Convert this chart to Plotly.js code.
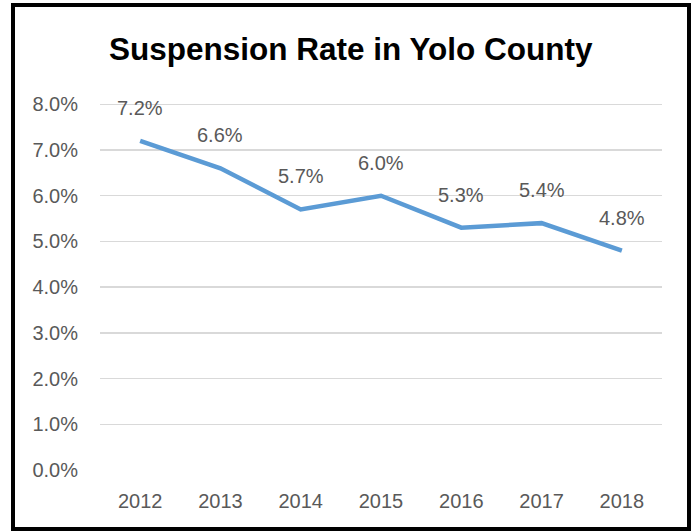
<!DOCTYPE html>
<html>
<head>
<meta charset="utf-8">
<script src="https://cdn.plot.ly/plotly-3.0.1.min.js"></script>
<style>
  html, body { margin: 0; padding: 0; background: #fff; }
  #wrap { position: relative; width: 696px; height: 531px; }
  #chart { position: absolute; left: 0; top: 0; width: 696px; height: 531px; }
  #frame { position: absolute; left: 11px; top: 3px; width: 672px; height: 520px;
           border: 4px solid #000; box-sizing: content-box; pointer-events: none; }
</style>
</head>
<body>
<div id="wrap">
  <div id="chart"></div>
  <div id="frame"></div>
</div>
<script>
const years = ['2012', '2013', '2014', '2015', '2016', '2017', '2018'];
const rates = [7.2, 6.6, 5.7, 6.0, 5.3, 5.4, 4.8];
const labels = ['7.2%', '6.6%', '5.7%', '6.0%', '5.3%', '5.4%', '4.8%'];
const yTicks = [0, 1, 2, 3, 4, 5, 6, 7, 8];
const yTickText = ['0.0%', '1.0%', '2.0%', '3.0%', '4.0%', '5.0%', '6.0%', '7.0%', '8.0%'];

const font = 'Liberation Sans, Arial, sans-serif';

const trace = {
  x: years,
  y: rates,
  type: 'scatter',
  mode: 'lines',
  line: { color: '#5B9BD5', width: 4.5 },
  hoverinfo: 'skip'
};

// category axis: annotation x uses the category's serial index
const annotations = years.map((yr, i) => ({
  x: i, y: rates[i], xref: 'x', yref: 'y',
  text: labels[i], showarrow: false, yshift: 33,
  font: { family: font, size: 20, color: '#595959' }
}));

const layout = {
  width: 696, height: 531,
  margin: { l: 100, r: 34, t: 102, b: 61 },
  paper_bgcolor: '#fff', plot_bgcolor: '#fff',
  showlegend: false,
  title: {
    text: 'Suspension Rate in Yolo County',
    x: 0.504, xanchor: 'center', y: 1 - 49 / 531, yanchor: 'middle', yref: 'container',
    font: { family: font, size: 31.5, color: '#000', weight: 'bold' }
  },
  xaxis: {
    type: 'category', range: [-0.5, 6.5],
    showgrid: false, zeroline: false, showline: false, ticks: '',
    ticklabelstandoff: 17,
    tickfont: { family: font, size: 20, color: '#595959' }
  },
  yaxis: {
    range: [0, 8.05], tickvals: yTicks, ticktext: yTickText,
    showgrid: true, gridcolor: '#D9D9D9', gridwidth: 1.5,
    zeroline: false, showline: false, ticks: '',
    ticklabelstandoff: 21,
    tickfont: { family: font, size: 20, color: '#595959' }
  },
  annotations: annotations
};

Plotly.newPlot('chart', [trace], layout, { displayModeBar: false, staticPlot: true });
</script>
</body>
</html>
